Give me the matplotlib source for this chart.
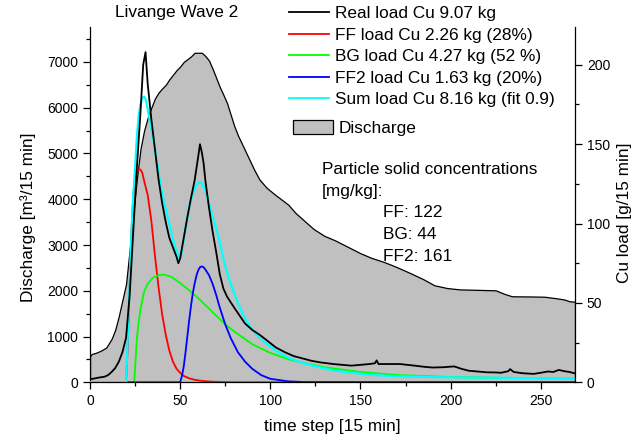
import matplotlib
matplotlib.use("Agg")
import matplotlib.pyplot as plt
from matplotlib.patches import Patch
from matplotlib.lines import Line2D

plt.rcParams["font.family"] = ["Liberation Sans", "DejaVu Sans"]

# discharge [m3/15 min], left axis
t_q = [0, 1, 3, 6, 9, 12, 14, 16, 18, 20, 22, 24, 26, 28, 30, 32, 34, 36, 38, 40,
       42, 44, 46, 48, 50, 52, 54, 56, 58, 62, 64, 66, 68, 70, 72, 74, 76, 78, 80,
       82, 85, 88, 91, 94, 98, 102, 106, 110, 114, 118, 124, 130, 136, 142, 150,
       156, 163, 170, 178, 185, 191, 198, 205, 215, 225, 230, 234, 245, 252, 258,
       263, 266, 269]
discharge = [570, 620, 640, 690, 760, 950, 1150, 1450, 1800, 2150, 2900, 3700,
             4450, 5100, 5500, 5780, 6000, 6200, 6330, 6420, 6500, 6620, 6720,
             6820, 6900, 7000, 7060, 7120, 7200, 7200, 7130, 7030, 6850, 6650,
             6450, 6280, 6100, 5850, 5600, 5400, 5150, 4900, 4650, 4430, 4250,
             4120, 4000, 3880, 3700, 3560, 3350, 3200, 3100, 2980, 2820, 2720,
             2630, 2520, 2380, 2250, 2120, 2060, 2030, 2020, 2010, 1930, 1880,
             1875, 1870, 1840, 1810, 1770, 1760]

# Cu loads [g/15 min], right axis
t_real = [0, 2, 5, 8, 10, 12, 14, 16, 18, 20, 22, 24, 26, 28, 29.5, 30.8, 32, 34,
          36, 38, 40, 42, 44, 46, 48, 49, 50, 52, 54, 56, 58, 60, 61, 62, 63, 64,
          66, 68, 70, 72, 74, 76, 80, 83, 86, 90, 94, 98, 103, 108, 113, 118, 123,
          128, 135, 140, 145, 150, 155, 158, 159, 160, 166, 172, 180, 185, 190,
          196, 202, 206, 210, 215, 220, 225, 228, 232, 233, 235, 240, 246, 250,
          254, 257, 260, 263, 266, 269]
real_load = [2, 2.3, 3, 3.5, 4.5, 6.5, 9, 13, 19, 28, 55, 95, 135, 170, 200, 208,
             188, 166, 147, 128, 113, 101, 91, 85, 79, 75, 78, 91, 104, 116, 127,
             142, 150, 145, 138, 127, 110, 95, 82, 68, 59, 54, 47, 42, 37, 33, 30,
             26.5, 22, 19, 16.5, 15, 13.5, 12.5, 11.5, 11, 10.5, 11, 11.5, 12,
             13.8, 11.5, 11.5, 11.5, 10.5, 9.8, 9.3, 9.5, 10, 8.5, 7.3, 6.8, 6.3,
             6.2, 6, 7, 8.3, 6.5, 5.7, 5.3, 6, 6.8, 6.5, 7.8, 7, 6.5, 5.6]

t_ff = [0, 20, 21, 22, 23, 24, 25, 26, 27, 28, 29, 30, 32, 34, 36, 38, 40, 42, 44,
        46, 48, 50, 52, 55, 58, 62, 66, 72, 80, 269]
ff_load = [0, 0, 25, 62, 95, 118, 128, 132, 134, 134, 132, 127, 118, 102, 80, 60,
           43, 30, 20, 13, 8.5, 6, 4, 2.5, 1.6, 0.9, 0.5, 0.2, 0, 0]

t_bg = [0, 24.5, 25, 25.5, 26, 27, 28, 30, 32, 35, 38, 41, 45, 50, 55, 60, 65, 70,
        75, 80, 90, 100, 110, 120, 130, 150, 170, 200, 230, 269]
bg_load = [0, 0, 8, 18, 27, 38, 46, 57, 62, 66, 67.5, 67.8, 66.5, 62.5, 58, 53,
           47.5, 42, 36.5, 32, 24, 18.5, 14.5, 11.8, 9.5, 6.5, 4.6, 3.3, 2.8, 2.4]

t_ff2 = [0, 50, 51, 52, 53, 54, 55, 56, 57, 58, 59, 60, 61, 62, 63, 64, 66, 68,
         70, 72, 75, 78, 82, 86, 90, 95, 100, 110, 120, 269]
ff2_load = [0, 0, 4, 10, 19, 29, 39, 48, 56, 62, 67, 70.5, 72.5, 73, 72.5, 71,
            67.5, 62, 55, 47, 36.5, 28, 19, 13, 8.5, 4.5, 2.2, 0.6, 0.1, 0]

t_sum = [0, 20, 21, 22, 23, 24, 25, 26, 27, 28, 29, 30, 31, 32, 34, 36, 38, 40,
         42, 44, 46, 48, 50, 52, 54, 56, 58, 60, 61, 62, 64, 66, 68, 70, 72, 75,
         78, 82, 86, 90, 95, 100, 105, 110, 117, 125, 135, 145, 155, 170, 190,
         210, 230, 250, 269]
sum_load = [0, 0, 30, 62, 95, 118, 135, 155, 168, 175, 179, 180, 178, 172, 160,
            147, 132, 119, 109, 100, 90, 82, 77.5, 90, 104, 115, 122, 125.5, 126,
            125.5, 121, 113, 104.5, 97, 88, 73, 62, 50, 40, 33, 27, 22.5, 18.5,
            15.5, 12.5, 10, 7.5, 6, 4.8, 3.8, 3.3, 3.0, 2.8, 2.6, 2.5]

labels = ["Real load Cu 9.07 kg", "FF load Cu 2.26 kg (28%)",
          "BG load Cu 4.27 kg (52 %)", "FF2 load Cu 1.63 kg (20%)",
          "Sum load Cu 8.16 kg (fit 0.9)"]
colors = ["black", "#ff0000", "#00ff00", "#0000ff", "#00ffff"]

FS = 12.4

fig = plt.figure(figsize=(6.39, 4.40), dpi=100)
ax = fig.add_axes([90 / 639, 1 - 382.3 / 440, 485 / 639, 355.6 / 440])
ax2 = ax.twinx()

ax.fill_between(t_q, 0, discharge, facecolor="#c0c0c0", edgecolor="black", lw=0.9)

series = [(t_real, real_load), (t_ff, ff_load), (t_bg, bg_load),
          (t_ff2, ff2_load), (t_sum, sum_load)]
for i in [1, 2, 3, 4, 0]:
    tt, yy = series[i]
    ax2.plot(tt, yy, color=colors[i], lw=1.6 if i == 4 else 1.3)

ax.set_xlim(0, 269)
ax.set_ylim(0, 7770)
ax2.set_ylim(0, 224)
ax.set_xticks(range(0, 251, 50))
ax.set_xticks(range(0, 269, 25), minor=True)
ax.set_yticks(range(0, 7001, 1000))
ax.set_yticks(range(0, 7770, 500), minor=True)
ax2.set_yticks(range(0, 201, 50))
ax2.set_yticks(range(0, 224, 25), minor=True)

for a in (ax, ax2):
    a.spines["top"].set_visible(False)
    for s in a.spines.values():
        s.set_linewidth(0.9)
    a.tick_params(which="major", length=5, width=0.9, labelsize=10, pad=3.5)
    a.tick_params(which="minor", length=3, width=0.9)
ax.spines["right"].set_visible(False)
ax2.spines["left"].set_visible(False)
ax2.spines["bottom"].set_visible(False)

ax.set_xlabel("time step [15 min]", fontsize=FS, labelpad=8)
ax.set_ylabel("Discharge [m³/15 min]", fontsize=FS, va="center")
ax.yaxis.set_label_coords((28 - 90) / 485, 0.463)
ax2.set_ylabel("Cu load [g/15 min]", fontsize=FS, va="center", rotation=90)
ax2.yaxis.set_label_coords((624 - 90) / 485, 0.476)

fig.text(177 / 639, 1 - 13 / 440, "Livange Wave 2", fontsize=FS,
         ha="center", va="center")

handles = [Line2D([], [], color=c, lw=1.3) for c in colors]
fig.legend(handles, labels, loc="upper left", bbox_to_anchor=(289 / 639, 1 - 6 / 440),
           frameon=False, fontsize=FS, handlelength=2.3, handletextpad=0.35,
           labelspacing=0.38, borderpad=0, borderaxespad=0)
fig.legend([Patch(facecolor="#c0c0c0", edgecolor="black", lw=0.9)], ["Discharge"],
           loc="upper left", bbox_to_anchor=(293 / 639, 1 - 120 / 440),
           frameon=False, fontsize=FS, handlelength=2.3, handleheight=0.9,
           handletextpad=0.35, borderpad=0, borderaxespad=0)

notes = ["Particle solid concentrations", "[mg/kg]:", "FF: 122", "BG: 44", "FF2: 161"]
note_x = [322, 322, 383, 383, 383]
for k, s in enumerate(notes):
    fig.text(note_x[k] / 639, 1 - (174 + 21.7 * k) / 440, s, fontsize=FS,
             ha="left", va="baseline")

fig.savefig("out.png", dpi=100)
